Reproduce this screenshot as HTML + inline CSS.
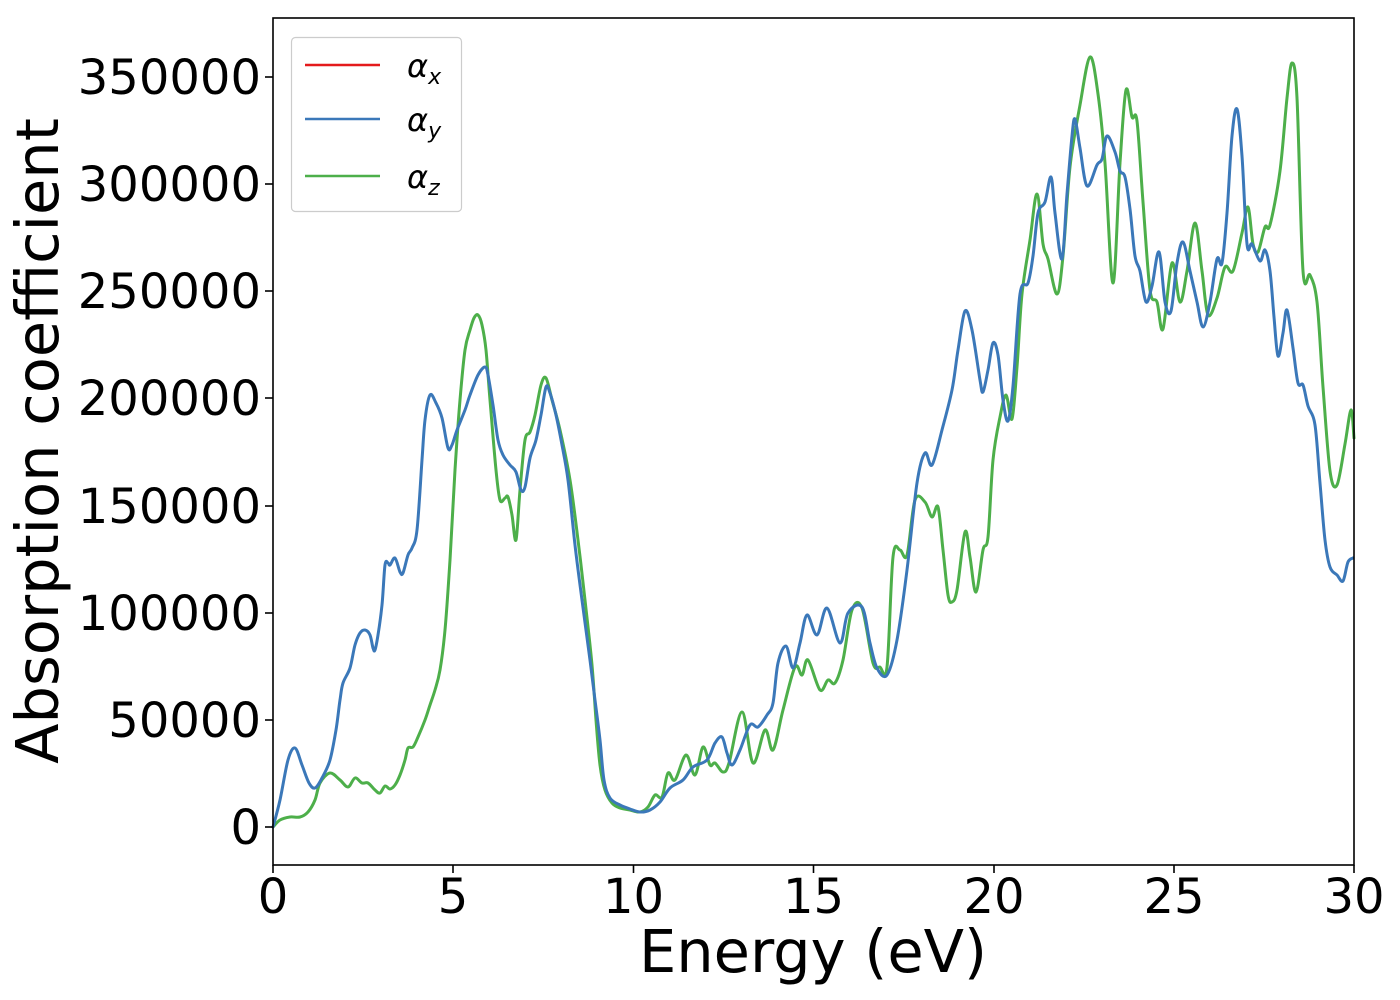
<!DOCTYPE html>
<html><head><meta charset="utf-8"><style>body{margin:0;background:#fff}svg{display:block}</style></head><body>
<svg id="s" width="1400" height="1000" viewBox="0 0 1400 1000" xmlns="http://www.w3.org/2000/svg" font-family="DejaVu Sans, sans-serif">
<rect width="1400" height="1000" fill="#fff"/>
<g fill="none" stroke-width="3" stroke-linejoin="round" stroke-linecap="round">
<polyline class="c" stroke="#4daf4a" points="273,827 280,820 290,817 300,817 308,812 315,800 320,783 330,773 340,780 348,787 355,778 362,783 368,783 375,790 380,793 385,786 390,789 395,785 400,775 405,760 408,748 413,747 418,737 425,720 430,705 435,690 440,670 445,630 450,560 455,470 460,400 465,350 470,330 474,318 478,315 482,325 486,350 490,400 496,470 500,500 505,498 508,497 512,515 516,540 520,490 525,440 530,432 535,415 541,385 546,378 552,400 560,430 570,480 578,540 585,600 592,665 596,720 600,765 605,790 612,803 620,808 630,810 640,812 648,807 655,795 662,797 668,773 675,780 686,755 695,775 703,747 710,765 715,763 723,772 729,763 742,712 753,763 765,730 773,750 783,710 795,667 802,675 808,660 820,690 828,680 835,683 843,660 852,610 862,608 873,663 880,667 887,667 893,557 900,550 907,555 915,500 925,502 932,517 938,507 943,550 948,595 952,602 957,590 965,532 970,557 976,592 983,550 988,537 993,460 1000,417 1006,395 1012,419 1017,367 1022,294 1030,240 1037,194 1043,244 1048,259 1057,294 1063,256 1070,167 1080,105 1090,57 1098,94 1105,163 1113,283 1120,163 1126,90 1132,117 1137,121 1143,202 1150,290 1157,302 1163,329 1172,263 1180,302 1187,271 1195,223 1202,271 1208,315 1217,298 1225,267 1233,271 1242,233 1248,207 1253,244 1258,252 1265,227 1270,225 1280,171 1287,98 1292,63 1297,98 1303,271 1310,275 1317,302 1323,387 1330,471 1337,485 1345,444 1351,410 1354,438"/>
<polyline class="c" stroke="#3b78b9" points="273,827 280,800 288,760 295,748 302,765 309,783 315,788 322,778 330,760 336,730 340,700 343,683 350,668 355,645 360,633 365,630 370,635 373,648 375,650 378,635 382,605 385,565 388,563 390,565 395,558 400,572 403,573 408,555 412,548 417,530 422,460 425,420 430,395 436,403 442,418 448,448 452,445 457,430 465,410 470,395 478,375 485,367 488,375 493,405 498,440 503,455 510,465 516,472 521,490 525,487 530,458 536,440 541,415 546,387 550,393 556,415 562,445 568,480 575,545 582,600 590,660 595,700 600,740 604,780 610,798 620,805 630,809 640,812 650,810 660,802 670,788 683,780 693,767 707,760 715,743 722,737 727,753 732,765 740,750 750,725 758,727 767,715 773,703 778,663 786,646 793,668 800,643 807,615 817,635 827,608 840,643 848,613 862,607 870,643 877,668 887,675 897,640 907,570 917,483 925,453 932,465 942,430 952,390 958,350 965,311 972,330 980,380 983,392 988,370 993,343 998,355 1003,400 1008,421 1013,386 1020,294 1028,283 1033,256 1038,213 1045,202 1051,177 1055,213 1062,259 1067,194 1072,136 1075,119 1080,148 1087,186 1097,165 1102,159 1107,136 1115,152 1120,171 1125,177 1130,209 1135,256 1140,271 1146,302 1152,286 1159,252 1165,302 1171,311 1177,263 1183,242 1190,271 1197,302 1203,327 1210,302 1217,259 1222,263 1227,213 1232,136 1237,109 1242,156 1247,244 1252,244 1260,261 1265,250 1270,271 1274,317 1278,356 1283,333 1287,310 1293,348 1298,383 1303,385 1308,406 1315,425 1320,483 1325,540 1330,567 1337,575 1343,581 1348,562 1353,558"/>
</g>
<rect x="273" y="18" width="1081" height="847" fill="none" stroke="#000" stroke-width="1.6"/>
<g stroke="#000" stroke-width="1.6">
<line x1="273" y1="865" x2="273" y2="873"/><line x1="453" y1="865" x2="453" y2="873"/><line x1="633.5" y1="865" x2="633.5" y2="873"/><line x1="813.5" y1="865" x2="813.5" y2="873"/><line x1="994" y1="865" x2="994" y2="873"/><line x1="1174" y1="865" x2="1174" y2="873"/><line x1="1354" y1="865" x2="1354" y2="873"/>
<line x1="265" y1="827" x2="273" y2="827"/><line x1="265" y1="720" x2="273" y2="720"/><line x1="265" y1="613" x2="273" y2="613"/><line x1="265" y1="506" x2="273" y2="506"/><line x1="265" y1="398" x2="273" y2="398"/><line x1="265" y1="291" x2="273" y2="291"/><line x1="265" y1="184" x2="273" y2="184"/><line x1="265" y1="77" x2="273" y2="77"/>
</g>
<g font-size="48" text-anchor="middle" fill="#000">
<text x="273" y="913">0</text><text x="453" y="913">5</text><text x="633.5" y="913">10</text><text x="813.5" y="913">15</text><text x="994" y="913">20</text><text x="1174" y="913">25</text><text x="1354" y="913">30</text>
</g>
<g font-size="48" text-anchor="end" fill="#000">
<text x="261" y="844">0</text><text x="261" y="737">50000</text><text x="261" y="630">100000</text><text x="261" y="523">150000</text><text x="261" y="415">200000</text><text x="261" y="308">250000</text><text x="261" y="201">300000</text><text x="261" y="94">350000</text>
</g>
<text x="813" y="972" font-size="59" text-anchor="middle">Energy (eV)</text>
<text transform="translate(58,441) rotate(-90)" font-size="59" text-anchor="middle">Absorption coefficient</text>
<rect x="291.5" y="37.5" width="170" height="174" rx="4" fill="#fff" stroke="#ccc" stroke-width="1.2"/>
<line x1="305" y1="65" x2="380" y2="65" stroke="#e41a1c" stroke-width="2.6"/>
<line x1="305" y1="119" x2="380" y2="119" stroke="#3b78b9" stroke-width="2.6"/>
<line x1="305" y1="176" x2="380" y2="176" stroke="#4daf4a" stroke-width="2.6"/>
<g font-size="32" font-style="italic">
<text x="407" y="77">α<tspan font-size="22" dy="7">x</tspan></text>
<text x="407" y="131">α<tspan font-size="22" dy="7">y</tspan></text>
<text x="407" y="188">α<tspan font-size="22" dy="7">z</tspan></text>
</g>
</svg>
<script>
(function(){
var ns="http://www.w3.org/2000/svg";
document.querySelectorAll("polyline.c").forEach(function(pl){
var p=pl.getAttribute("points").trim().split(/\s+/).map(function(s){var a=s.split(",");return[+a[0],+a[1]];});
var d="M"+p[0][0]+","+p[0][1];
for(var i=0;i<p.length-1;i++){
var p0=p[i>0?i-1:i],p1=p[i],p2=p[i+1],p3=p[i+2<p.length?i+2:i+1];
var c1x=p1[0]+(p2[0]-p0[0])/6,c1y=p1[1]+(p2[1]-p0[1])/6;
var c2x=p2[0]-(p3[0]-p1[0])/6,c2y=p2[1]-(p3[1]-p1[1])/6;
d+="C"+c1x.toFixed(1)+","+c1y.toFixed(1)+" "+c2x.toFixed(1)+","+c2y.toFixed(1)+" "+p2[0]+","+p2[1];
}
var path=document.createElementNS(ns,"path");
path.setAttribute("d",d);
path.setAttribute("stroke",pl.getAttribute("stroke"));
pl.parentNode.replaceChild(path,pl);
});
})();
</script>
</body></html>
